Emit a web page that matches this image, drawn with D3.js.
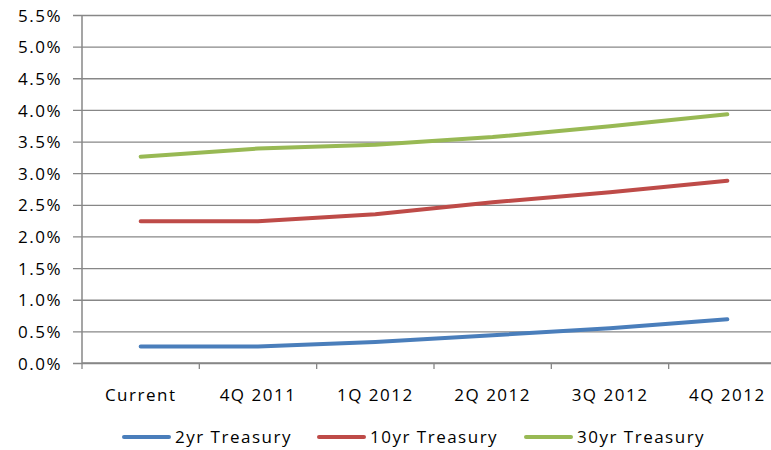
<!DOCTYPE html>
<html>
<head>
<meta charset="utf-8">
<script src="https://cdn.jsdelivr.net/npm/d3@7"></script>
<style>
  html, body { margin: 0; padding: 0; background: #fff; }
  svg { display: block; }
  text { font-family: "Open Sans", sans-serif; font-size: 17px; fill: #000; letter-spacing: 1.5px; }
</style>
</head>
<body>
<svg id="chart" width="771" height="450"></svg>
<script>
const categories = ["Current", "4Q 2011", "1Q 2012", "2Q 2012", "3Q 2012", "4Q 2012"];
const seriesNames = ["2yr Treasury", "10yr Treasury", "30yr Treasury"];
const twoYr = [0.26, 0.26, 0.33, 0.44, 0.55, 0.69];
const tenYr = [2.24, 2.24, 2.35, 2.54, 2.70, 2.88];
const thirtyYr = [3.26, 3.39, 3.45, 3.57, 3.74, 3.93];
const yTicks = [0, 0.5, 1.0, 1.5, 2.0, 2.5, 3.0, 3.5, 4.0, 4.5, 5.0, 5.5];
const colors = ["#4A7EBB", "#BE4B48", "#98B954"];

const series = [twoYr, tenYr, thirtyYr];
const svg = d3.select("#chart");

const mLeft = 82, mRight = 786, mTop = 15, mBottom = 363;
const x = d3.scaleBand().domain(categories).range([mLeft, mRight]);
const y = d3.scaleLinear().domain([0, 5.5]).range([mBottom, mTop]);
const gridColor = "#878787";

// gridlines
const yAxis = d3.axisLeft(y).tickValues(yTicks)
  .tickSize(-(mRight - mLeft)).tickFormat(d => d.toFixed(1) + "%").tickPadding(20);
const gy = svg.append("g").attr("transform", `translate(${mLeft},0)`).call(yAxis);
gy.select(".domain").remove();
gy.selectAll(".tick line").attr("stroke", gridColor).attr("stroke-width", 1.3).attr("x1", -9);
gy.selectAll(".tick text").attr("font-family", null).attr("font-size", null).attr("dy", "0.36em");

// left axis line
svg.append("line").attr("x1", mLeft).attr("x2", mLeft).attr("y1", y(5.5)).attr("y2", y(0))
  .attr("stroke", gridColor).attr("stroke-width", 1.5);

// x axis
const xAxis = d3.axisBottom(x).tickSize(0).tickPadding(26);
const gx = svg.append("g").attr("transform", `translate(0,${mBottom})`).call(xAxis);
gx.select(".domain").remove();
gx.selectAll(".tick text").attr("font-family", null).attr("font-size", null);
const boundaries = categories.map(c => x(c)).concat([x(categories[categories.length - 1]) + x.bandwidth()]);
svg.append("g").selectAll("line").data(boundaries).join("line")
  .attr("x1", d => d).attr("x2", d => d).attr("y1", mBottom).attr("y2", mBottom + 6)
  .attr("stroke", gridColor).attr("stroke-width", 1.3);
svg.append("line").attr("x1", mLeft).attr("x2", mRight).attr("y1", mBottom).attr("y2", mBottom)
  .attr("stroke", gridColor).attr("stroke-width", 1.5);

// lines
const line = d3.line()
  .x((d, i) => x(categories[i]) + x.bandwidth() / 2)
  .y(d => y(d));
svg.append("g").selectAll("path").data(series).join("path")
  .attr("d", d => line(d))
  .attr("fill", "none")
  .attr("stroke", (d, i) => colors[i])
  .attr("stroke-width", 4)
  .attr("stroke-linecap", "round")
  .attr("stroke-linejoin", "round");

// legend
const legendX = [124, 319, 526];
const lg = svg.append("g").selectAll("g").data(seriesNames).join("g")
  .attr("transform", (d, i) => `translate(${legendX[i]},437)`);
lg.append("line").attr("x1", 0).attr("x2", 45).attr("y1", 0).attr("y2", 0)
  .attr("stroke", (d, i) => colors[i]).attr("stroke-width", 4).attr("stroke-linecap", "round");
lg.append("text").attr("x", 51).attr("y", 0).attr("dy", "0.36em").text(d => d);
</script>
</body>
</html>
